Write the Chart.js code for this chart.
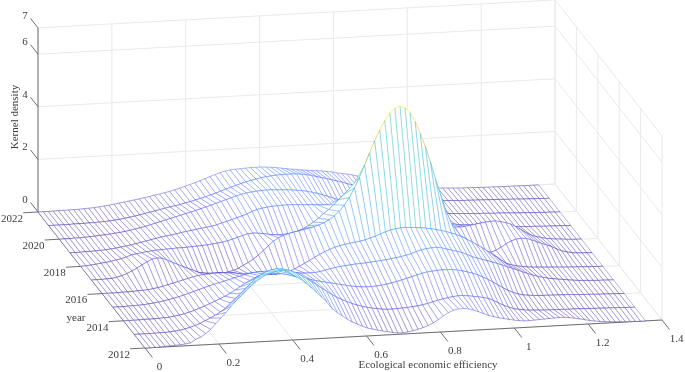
<!DOCTYPE html>
<html>
<head>
<meta charset="utf-8">
<style>body{margin:0;background:#fff}canvas{display:block}</style>
<script src="https://cdn.jsdelivr.net/npm/chart.js@4"></script>
</head>
<body>
<canvas id="SurfaceChart" width="685" height="372"></canvas>
<script>
var years = [2022, 2021, 2020, 2019, 2018, 2017, 2016, 2015, 2014, 2013, 2012];
var xStep = 0.01369;

var d2022 = [0,0,0,0,.01,.01,.01,.02,.02,.03, .04,.05,.07,.09,.11,.14,.17,.2,.23,.26, .29,.32,.36,.4,.43,.47,.51,.56,.61,.67, .73,.79,.85,.92,.99,1.06,1.12,1.17,1.2,1.22, 1.23,1.24,1.25,1.25,1.25,1.24,1.22,1.2,1.17,1.14, 1.11,1.09,1.06,1.04,1.02,1,.98,.95,.92,.88, .84,.81,.77,.72,.67,.62,.57,.52,.46,.4, .35,.31,.27,.24,.21,.18,.15,.13,.11,.09, .08,.07,.06,.05,.04,.04,.03,.03,.02,.02, .02,.01,.01,.01,.01,.01,0,0,0,0];
var d2021 = [0,0,0,0,0,.01,.01,.01,.02,.02, .03,.04,.05,.07,.09,.12,.15,.18,.22,.26, .3,.34,.38,.42,.46,.49,.53,.58,.62,.67, .72,.77,.83,.89,.95,1.02,1.08,1.14,1.2,1.25, 1.3,1.34,1.38,1.41,1.43,1.45,1.46,1.46,1.46,1.45, 1.43,1.4,1.36,1.31,1.26,1.21,1.16,1.1,1.05,.98, .92,.87,.82,.77,.71,.66,.6,.55,.5,.45, .4,.35,.31,.27,.23,.2,.18,.16,.14,.13, .12,.11,.1,.1,.09,.09,.08,.08,.07,.07, .06,.05,.05,.04,.03,.03,.02,.02,.01,.01];
var d2020 = [0,0,0,.01,.01,.02,.03,.04,.06,.07, .09,.11,.13,.16,.19,.23,.27,.31,.36,.41, .46,.51,.56,.61,.66,.71,.76,.81,.87,.92, .98,1.04,1.1,1.16,1.22,1.28,1.33,1.37,1.4,1.42, 1.43,1.44,1.44,1.43,1.42,1.41,1.39,1.37,1.34,1.31, 1.26,1.21,1.15,1.08,1.01,.94,.87,.8,.74,.68, .62,.57,.53,.48,.44,.41,.38,.35,.32,.29, .26,.24,.23,.21,.2,.19,.18,.17,.16,.15, .14,.13,.12,.11,.11,.1,.09,.09,.08,.07, .06,.05,.05,.04,.03,.03,.02,.02,.01,.01];
var d2019 = [0,0,0,.01,.01,.02,.03,.04,.06,.08, .11,.14,.17,.21,.25,.29,.33,.37,.41,.44, .47,.5,.54,.57,.6,.63,.66,.69,.72,.76, .82,.87,.93,.99,1.05,1.11,1.2,1.26,1.3,1.33, 1.35,1.36,1.37,1.37,1.37,1.36,1.35,1.34,1.33,1.31, 1.3,1.28,1.26,1.24,1.22,1.2,1.17,1.14,1.12,1.09, 1.05,1.01,.97,.93,.88,.83,.78,.73,.68,.62, .57,.52,.47,.42,.38,.33,.3,.27,.24,.21, .18,.16,.14,.13,.12,.11,.1,.09,.08,.07, .06,.05,.05,.04,.03,.03,.02,.02,.01,.01];
var d2018 = [0,.01,.03,.05,.08,.1,.13,.17,.21,.26, .33,.36,.39,.42,.44,.46,.47,.48,.49,.5, .5,.51,.52,.53,.54,.56,.58,.6,.63,.67, .72,.78,.84,.89,.91,.9,.87,.84,.81,.78, .78,.8,.84,.9,.98,1.08,1.2,1.34,1.5,1.65, 1.82,2,2.19,2.38,2.55,2.7,2.82,2.92,2.99,3.02, 3.01,2.96,2.87,2.72,2.52,2.28,2.02,1.75,1.48,1.2, .98,.88,.8,.75,.72,.72,.73,.76,.79,.82, .85,.87,.87,.84,.79,.72,.62,.5,.37,.27, .2,.15,.11,.08,.06,.05,.03,.02,.01,.01];
var d2017 = [0,0,0,.01,.02,.05,.1,.17,.26,.36, .47,.58,.67,.7,.68,.6,.5,.42,.33,.25, .17,.08,.03,.01,0,0,0,.02,.07,.14, .24,.34,.46,.6,.77,.94,1.1,1.22,1.3,1.36, 1.4,1.44,1.48,1.52,1.56,1.62,1.7,1.8,1.93,2.1, 2.32,2.6,2.95,3.35,3.8,4.25,4.7,5.1,5.45,5.72, 5.9,5.97,5.9,5.7,5.35,4.9,4.4,3.8,3.15,2.55, 1.95,1.45,1.05,.78,.6,.47,.38,.3,.25,.23, .3,.4,.52,.62,.68,.7,.68,.62,.54,.46, .4,.32,.22,.14,.09,.05,.03,.02,.01,.01];
var d2016 = [0,0,0,0,.01,.01,.02,.03,.04,.05, .08,.11,.15,.2,.25,.3,.35,.4,.45,.49, .51,.53,.54,.54,.54,.53,.51,.48,.46,.44, .42,.4,.39,.38,.38,.39,.4,.46,.54,.63, .73,.83,.94,1.04,1.13,1.21,1.28,1.33,1.37,1.4, 1.43,1.46,1.5,1.56,1.62,1.69,1.76,1.82,1.86,1.88, 1.89,1.88,1.87,1.85,1.82,1.79,1.75,1.7,1.65,1.59, 1.52,1.43,1.33,1.22,1.1,.98,.85,.72,.58,.44, .31,.25,.2,.17,.14,.12,.11,.1,.09,.08, .07,.06,.05,.04,.04,.03,.02,.02,.01,.01];
var d2015 = [0,0,0,.01,.01,.02,.03,.05,.07,.1, .13,.17,.21,.26,.31,.37,.43,.49,.55,.61, .66,.71,.76,.81,.86,.91,.96,1,1.03,1.05, 1.05,1.04,1.02,1,.97,.94,.92,.91,.9,.9, .9,.93,.97,1.01,1.05,1.08,1.1,1.12,1.14,1.15, 1.16,1.18,1.2,1.22,1.24,1.27,1.3,1.33,1.37,1.42, 1.49,1.54,1.58,1.6,1.61,1.58,1.52,1.47,1.42,1.36, 1.28,1.18,1.12,1.06,1,.94,.87,.8,.72,.65, .58,.5,.43,.36,.3,.25,.21,.18,.15,.13, .1,.08,.06,.05,.04,.03,.02,.02,.01,.01];
var d2014 = [0,0,0,0,.01,.01,.01,.02,.03,.04, .07,.1,.14,.19,.25,.32,.39,.47,.55,.63, .72,.82,.93,1.05,1.17,1.27,1.36,1.43,1.47,1.5, 1.5,1.48,1.44,1.39,1.33,1.28,1.23,1.18,1.13,1.09, 1.05,1.01,.97,.93,.89,.85,.82,.8,.79,.79, .8,.82,.85,.89,.93,.98,1.03,1.08,1.14,1.19, 1.23,1.25,1.27,1.28,1.28,1.27,1.24,1.2,1.15,1.09, 1.02,.93,.83,.72,.6,.48,.37,.28,.21,.16, .14,.12,.11,.1,.1,.09,.09,.08,.08,.07, .06,.05,.05,.04,.03,.03,.02,.02,.01,.01];
var d2013 = [0,0,0,0,0,.01,.01,.02,.04,.06, .1,.15,.21,.28,.37,.46,.56,.67,.8,.99, 1.16,1.34,1.52,1.7,1.87,2,2.1,2.17,2.2,2.19, 2.15,2.09,2,1.9,1.78,1.65,1.52,1.38,1.25,1.12, 1,.9,.81,.73,.66,.6,.55,.51,.48,.45, .43,.43,.44,.45,.46,.48,.5,.53,.57,.62, .67,.71,.75,.78,.8,.8,.78,.75,.72,.68, .64,.55,.45,.35,.27,.2,.16,.13,.11,.1, .09,.08,.08,.07,.07,.07,.06,.06,.06,.05, .05,.04,.04,.03,.03,.02,.02,.01,.01,0];
var d2012 = [0,0,0,.01,.02,.03,.04,.05,.07,.1, .22,.3,.42,.57,.78,.98,1.18,1.4,1.6,1.78, 1.96,2.14,2.3,2.43,2.54,2.6,2.64,2.66,2.64,2.5, 2.38,2.27,2.1,1.93,1.75,1.56,1.36,1.12,.96,.82, .68,.56,.47,.38,.3,.25,.2,.16,.12,.08, .05,.05,.07,.1,.15,.2,.27,.36,.47,.6, .72,.8,.84,.85,.82,.76,.69,.61,.53,.47, .42,.38,.34,.3,.27,.25,.25,.26,.27,.28, .29,.3,.31,.3,.28,.25,.21,.17,.13,.1, .07,.05,.04,.03,.02,.01,.01,0,0,0];
var densityRows = [d2022, d2021, d2020, d2019, d2018, d2017, d2016, d2015, d2014, d2013, d2012];

var xTicks = [0, 0.2, 0.4, 0.6, 0.8, 1, 1.2, 1.4];
var yearTicks = [2012, 2014, 2016, 2018, 2020, 2022];
var zTicks = [0, 2, 4, 6, 7];
var parula = [[62,38,168],[72,82,244],[46,135,247],[18,177,214],[55,200,151],[171,199,57],[254,195,56],[249,251,21]];

// orthographic view of the box
function project(x, year, z) {
    var k = year - 2012;
    return {x: 145 + 369.3 * x - 10.7 * k, y: 348 - 20 * x - 13.6 * k - 26.3 * z};
}
function segment(a, b, color, width) {
    return {data: [project(a[0], a[1], a[2]), project(b[0], b[1], b[2])], showLine: true, borderColor: color,
        borderWidth: width, pointRadius: 0, fill: false};
}
function meshColor(z, alpha) {
    var t = Math.min(z / 5.97, 1) * (parula.length - 1);
    var i = Math.min(Math.floor(t), parula.length - 2);
    var f = t - i;
    var c = parula[i].map(function (v, n) { return Math.round(v + (parula[i + 1][n] - v) * f); });
    return 'rgba(' + c.join(',') + ',' + alpha + ')';
}
// row edges take their mean height, the long year edges stay near their low end
function cellSegments(a, b, c, d) {
    var colors = [meshColor((a + b) / 2, 0.8), meshColor(Math.min(b, c) + Math.abs(b - c) * 0.25, 0.7),
        meshColor((c + d) / 2, 0.8), meshColor(Math.min(a, d) + Math.abs(a - d) * 0.25, 0.7)];
    return {
        borderColor: function (ctx) { return colors[ctx.p0DataIndex]; },
        borderWidth: function (ctx) { return ctx.p0DataIndex % 2 == 0 ? 0.6 : 0.5; }
    };
}

var layers = [];
var gridColor = '#e9e9e9';
var axisColor = '#6e6e6e';

// back wall, side wall and floor
xTicks.forEach(function (x) {
    layers.push(segment([x, 2022, 0], [x, 2022, 7], gridColor, 1));
    layers.push(segment([x, 2012, 0], [x, 2022, 0], gridColor, 1));
});
zTicks.forEach(function (z) {
    layers.push(segment([0, 2022, z], [1.4, 2022, z], gridColor, 1));
    layers.push(segment([1.4, 2012, z], [1.4, 2022, z], gridColor, 1));
});
yearTicks.forEach(function (y) {
    layers.push(segment([1.4, y, 0], [1.4, y, 7], gridColor, 1));
    layers.push(segment([0, y, 0], [1.4, y, 0], gridColor, 1));
});

// axes and their tick marks
layers.push(segment([0, 2012, 0], [1.4, 2012, 0], axisColor, 1));
layers.push(segment([0, 2012, 0], [0, 2022, 0], axisColor, 1));
layers.push(segment([0, 2022, 0], [0, 2022, 7], axisColor, 1));
xTicks.forEach(function (x) { layers.push(segment([x, 2012, 0], [x, 2011.3, 0], axisColor, 1)); });
yearTicks.forEach(function (y) { layers.push(segment([0, y, 0], [-0.04, y, 0], axisColor, 1)); });
zTicks.forEach(function (z) { layers.push(segment([0, 2022, z], [0, 2022.7, z], axisColor, 1)); });

// mesh cells back to front: a white shape that hides what is behind, then its edges
densityRows.forEach(function (row, r) {
    if (r == densityRows.length - 1) return;
    var next = densityRows[r + 1];
    for (var i = row.length - 2; i >= 0; i--) {
        var x0 = i * xStep, x1 = (i + 1) * xStep;
        var corners = [project(x0, years[r], row[i]), project(x1, years[r], row[i + 1]),
            project(x1, years[r + 1], next[i + 1]), project(x0, years[r + 1], next[i]),
            project(x0, years[r], row[i])];
        layers.push({data: corners, showLine: true, fill: 'shape', backgroundColor: '#fff',
            borderWidth: 0, borderColor: 'rgba(0,0,0,0)', pointRadius: 0});
        layers.push({data: corners, showLine: true, fill: false, pointRadius: 0,
            segment: cellSegments(row[i], row[i + 1], next[i + 1], next[i])});
    }
});

var tickText = {
    id: 'tickText',
    afterDraw: function (chart) {
        var ctx = chart.ctx, sx = chart.scales.x, sy = chart.scales.y;
        function put(text, px, py, rot) {
            ctx.save();
            ctx.translate(sx.getPixelForValue(px), sy.getPixelForValue(py));
            if (rot) ctx.rotate(rot);
            ctx.fillText(text, 0, 0);
            ctx.restore();
        }
        ctx.save();
        ctx.fillStyle = '#404040';
        ctx.font = '11px "Liberation Serif"';
        ctx.textAlign = 'center';
        ctx.textBaseline = 'middle';
        xTicks.forEach(function (x) { var p = project(x, 2012, 0); put(String(x), p.x + 14.5, p.y + 19.5); });
        yearTicks.forEach(function (y) { var p = project(0, y, 0); put(String(y), p.x - 26, p.y + 7); });
        zTicks.forEach(function (z) { var p = project(0, 2022, z); put(String(z), p.x - 13, p.y - 12); });
        put('Ecological economic efficiency', 428, 365);
        put('year', 76, 318);
        put('Kernel density', 15, 117, -Math.PI / 2);
        ctx.restore();
    }
};

var SurfaceChart = new Chart(document.getElementById('SurfaceChart'), {
    type: 'scatter',
    data: {datasets: layers.reverse()},
    options: {
        responsive: false,
        animation: false,
        layout: {padding: 0},
        plugins: {legend: {display: false}, tooltip: {enabled: false}},
        scales: {
            x: {display: false, min: 0, max: 685},
            y: {display: false, min: 0, max: 372, reverse: true}
        }
    },
    plugins: [tickText]
});
</script>
</body>
</html>
